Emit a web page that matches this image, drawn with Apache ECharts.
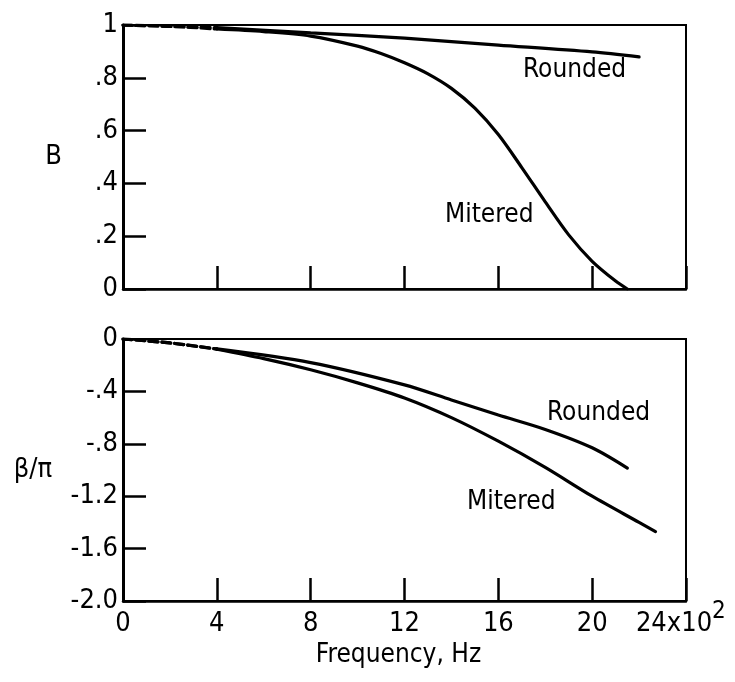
<!DOCTYPE html>
<html>
<head>
<meta charset="utf-8">
<script src="https://cdn.jsdelivr.net/npm/echarts@6/dist/echarts.min.js"></script>
<style>
html,body{margin:0;padding:0;background:#fff;}
#chart{width:735px;height:682px;}
</style>
</head>
<body>
<div id="chart"></div>
<script>
// ---- data (frequency in units of 10^2 Hz) ----
const freqTopRounded = [0, 4, 8, 12, 16, 20, 22];
const topRounded     = [1.0, 0.99, 0.97, 0.95, 0.924, 0.898, 0.879];

const freqTopMitered = [0, 2, 4, 6, 8, 10, 11, 12, 13, 14, 15, 16, 17, 18, 19, 20, 21, 21.5];
const topMitered     = [1.0, 0.995, 0.985, 0.975, 0.958, 0.92, 0.892, 0.857, 0.815, 0.76, 0.685, 0.585, 0.46, 0.33, 0.205, 0.105, 0.03, 0];

const freqBotRounded = [0, 2, 4, 8, 12, 14, 16, 18, 20, 21.5];
const botRounded     = [0, -0.03, -0.076, -0.18, -0.35, -0.465, -0.58, -0.69, -0.83, -0.985];

const freqBotMitered = [0, 2, 4, 6, 8, 10, 12, 14, 16, 18, 20, 22, 22.7];
const botMitered     = [0, -0.03, -0.078, -0.15, -0.235, -0.335, -0.45, -0.6, -0.78, -0.98, -1.2, -1.40, -1.47];

const xTickLabels    = ['0', '4', '8', '12', '16', '20', '24x10'];
const xExponent      = '2';
const topYTickLabels = ['0', '.2', '.4', '.6', '.8', '1'];
const botYTickLabels = ['-2.0', '-1.6', '-1.2', '-.8', '-.4', '0'];

const dashEnd = 4; // early part of both curves is drawn dashed

// ---- helpers ----
function pairs(xs, ys) { return xs.map((x, i) => [x, ys[i]]); }
function dashedPart(xs, ys) { return pairs(xs, ys).filter(p => p[0] <= dashEnd); }
function solidPart(xs, ys) { return pairs(xs, ys).filter(p => p[0] >= dashEnd); }

const numFont = "'Liberation Sans Narrow', 'DejaVu Sans Condensed', sans-serif";
const txtFont = "'DejaVu Sans Condensed', 'Liberation Sans Narrow', sans-serif";
const black = '#000';

function lineSeries(name, xi, yi, data, dashed) {
  return {
    name: name, type: 'line', xAxisIndex: xi, yAxisIndex: yi,
    data: data, showSymbol: false, symbol: 'none',
    smooth: 0.3,
    lineStyle: { color: black, width: 3.2, type: dashed ? [9, 4] : 'solid', cap: 'round' },
    silent: true, animation: false, z: 5
  };
}

function xAxisCfg(gridIndex, showLabels) {
  return {
    gridIndex: gridIndex, type: 'value', min: 0, max: 24, interval: 4,
    axisLine: { show: true, onZero: false, lineStyle: { color: black, width: 2.5 } },
    axisTick: { show: true, inside: true, length: 23, lineStyle: { color: black, width: 2.5 } },
    splitLine: { show: false },
    axisLabel: showLabels ? {
      show: true, margin: 9, color: black, fontFamily: numFont, fontSize: 27,
      formatter: function (v) {
        const idx = Math.round(v / 4);
        if (idx === xTickLabels.length - 1) return '{last|' + xTickLabels[idx] + '}';
        return xTickLabels[idx];
      },
      rich: {
        last: { fontFamily: numFont, fontSize: 27, color: black, padding: [0, 24, 0, 0] }
      }
    } : { show: false },
    name: showLabels ? 'Frequency, Hz' : '',
    nameLocation: 'middle', nameGap: 41,
    nameTextStyle: { color: black, fontFamily: txtFont, fontSize: 26, padding: [0, 12, 0, 0] }
  };
}

function yAxisCfg(gridIndex, min, max, interval, labels, name, gap) {
  return {
    gridIndex: gridIndex, type: 'value', min: min, max: max, interval: interval,
    axisLine: { show: true, onZero: false, lineStyle: { color: black, width: 3 } },
    axisTick: { show: true, inside: true, length: 23, lineStyle: { color: black, width: 2.5 } },
    splitLine: { show: false },
    axisLabel: {
      show: true, margin: 5, color: black, fontFamily: numFont, fontSize: 27,
      formatter: function (v) {
        const idx = Math.round((v - min) / interval);
        return labels[idx];
      }
    },
    name: name, nameLocation: 'middle', nameRotate: 0, nameGap: gap,
    nameTextStyle: { color: black, fontFamily: txtFont, fontSize: 27 }
  };
}

const chart = echarts.init(document.getElementById('chart'), null, { renderer: 'canvas' });

const annFont = "26px 'DejaVu Sans Condensed', sans-serif";
const option = {
  animation: false,
  backgroundColor: '#fff',
  textStyle: { fontFamily: txtFont, color: black },
  grid: [
    { left: 123, top: 25, width: 563, height: 264, show: true, borderColor: black, borderWidth: 2, backgroundColor: 'transparent', containLabel: false },
    { left: 123, top: 339, width: 563, height: 262, show: true, borderColor: black, borderWidth: 2, backgroundColor: 'transparent', containLabel: false }
  ],
  xAxis: [ xAxisCfg(0, false), xAxisCfg(1, true) ],
  yAxis: [
    yAxisCfg(0, 0, 1, 0.2, topYTickLabels, 'B', 61),
    yAxisCfg(1, -2, 0, 0.4, botYTickLabels, 'β/π', 71)
  ],
  series: [
    lineSeries('Rounded', 0, 0, dashedPart(freqTopRounded, topRounded), true),
    lineSeries('Rounded', 0, 0, solidPart(freqTopRounded, topRounded), false),
    lineSeries('Mitered', 0, 0, dashedPart(freqTopMitered, topMitered), true),
    lineSeries('Mitered', 0, 0, solidPart(freqTopMitered, topMitered), false),
    lineSeries('Rounded', 1, 1, dashedPart(freqBotRounded, botRounded), true),
    lineSeries('Rounded', 1, 1, solidPart(freqBotRounded, botRounded), false),
    lineSeries('Mitered', 1, 1, dashedPart(freqBotMitered, botMitered), true),
    lineSeries('Mitered', 1, 1, solidPart(freqBotMitered, botMitered), false)
  ],
  graphic: [
    { type: 'text', left: 523, top: 57, style: { text: 'Rounded', fill: black, font: annFont } },
    { type: 'text', left: 445, top: 202, style: { text: 'Mitered', fill: black, font: annFont } },
    { type: 'text', left: 547, top: 400, style: { text: 'Rounded', fill: black, font: annFont } },
    { type: 'text', left: 467, top: 489, style: { text: 'Mitered', fill: black, font: annFont } },
    { type: 'text', left: 712, top: 600, style: { text: xExponent, fill: black, font: "24px 'Liberation Sans Narrow', 'DejaVu Sans Condensed', sans-serif" } }
  ]
};

chart.setOption(option);
</script>
</body>
</html>
